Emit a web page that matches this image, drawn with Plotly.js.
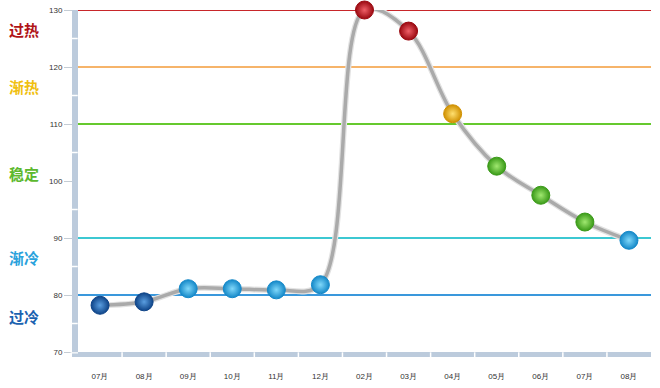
<!DOCTYPE html>
<html><head><meta charset="utf-8">
<script src="https://cdn.plot.ly/plotly-3.0.1.min.js"></script>
<style>html,body{margin:0;padding:0;background:#fff}#chart{width:660px;height:388px}</style>
</head><body><div id="chart"></div>
<script>
const months = ['07月','08月','09月','10月','11月','12月','02月','03月','04月','05月','06月','07月','08月'];
const values = [78.2, 78.8, 81.1, 81.1, 80.9, 81.8, 130, 126.3, 111.8, 102.6, 97.5, 92.8, 89.6];
const yTicks = [70, 80, 90, 100, 110, 120, 130];
const zoneLevels = [80, 90, 110, 120, 130];
const zoneLineColors = ['#3a98dc', '#3cc8d2', '#66c92e', '#f6b46a', '#c8262a'];
const zoneNames = ['过冷', '渐冷', '稳定', '渐热', '过热'];
const zoneLabelY = [76.3, 86.5, 101.4, 116.5, 126.5];
const zoneTextColors = ['#1a62b0', '#2aa2dc', '#5cb82e', '#f0c010', '#b01418'];

// marker colours per zone [light centre, dark edge]
function zoneColor(v) {
  if (v > 120) return ['#f06068', '#9a0810'];
  if (v > 110) return ['#ffe070', '#d09000'];
  if (v >= 90) return ['#a0e870', '#3a9a18'];
  if (v >= 80) return ['#80d8fa', '#1488c8'];
  return ['#5a9ee0', '#0e4488'];
}

const xIdx = months.map((_, i) => i);
const light = values.map(v => zoneColor(v)[0]);
const dark = values.map(v => zoneColor(v)[1]);

const traces = [
  { x: xIdx, y: values, type: 'scatter', mode: 'lines',
    line: { color: '#e2e2e2', width: 6, shape: 'spline', smoothing: 1 }, hoverinfo: 'skip', cliponaxis: false },
  { x: xIdx, y: values, type: 'scatter', mode: 'lines',
    line: { color: '#aaaaaa', width: 3.5, shape: 'spline', smoothing: 1 }, hoverinfo: 'skip', cliponaxis: false },
  { x: xIdx, y: values, type: 'scatter', mode: 'markers', cliponaxis: false,
    marker: { size: 18, color: dark, gradient: { type: 'radial', color: light },
      line: { color: dark, width: 1 } } }
];

const shapes = [];
zoneLevels.forEach((lv, i) => shapes.push({
  type: 'line', xref: 'paper', yref: 'y', x0: 0, x1: 1, y0: lv, y1: lv,
  line: { color: zoneLineColors[i], width: 2 }, layer: 'below'
}));
for (let k = 0; k < yTicks.length - 1; k++) {
  const mid = (yTicks[k] + yTicks[k + 1]) / 2;
  shapes.push({ type: 'line', xref: 'paper', yref: 'y', x0: -0.013, x1: -0.0005, y0: mid, y1: mid,
    line: { color: '#ffffff', width: 1.5 } });
}
for (let k = 0; k < months.length - 1; k++) {
  shapes.push({ type: 'line', xref: 'x', yref: 'paper', x0: k + 0.5, x1: k + 0.5, y0: -0.016, y1: -0.001,
    line: { color: '#ffffff', width: 1.5 } });
}
shapes.push({ type: 'line', xref: 'paper', yref: 'paper', x0: -0.013, x1: 0, y0: -0.0025, y1: -0.0025,
  line: { color: '#ffffff', width: 1.2 } });

const annotations = zoneNames.map((n, i) => ({
  xref: 'paper', yref: 'y', x: -0.124, y: zoneLabelY[i], xanchor: 'left', yanchor: 'middle',
  text: '<b>' + n + '</b>', showarrow: false,
  font: { family: 'Noto Sans CJK SC, sans-serif', size: 15, color: zoneTextColors[i] }
}));

const layout = {
  width: 660, height: 388,
  margin: { l: 78, r: 9, t: 10, b: 36 },
  paper_bgcolor: '#ffffff', plot_bgcolor: '#ffffff',
  showlegend: false,
  xaxis: {
    range: [-0.5, 12.5], tickvals: xIdx, ticktext: months, showgrid: false, zeroline: false,
    showline: true, linecolor: '#bccbdc', linewidth: 5, ticks: '', ticklabelstandoff: 12,
    tickfont: { family: 'Liberation Sans, Arial, sans-serif', size: 8, color: '#333' }, fixedrange: true
  },
  yaxis: {
    range: [70, 130], tickvals: yTicks, showgrid: false, zeroline: false,
    showline: true, linecolor: '#bccbdc', linewidth: 6, ticks: 'outside', ticklen: 8, tickcolor: '#c4ccd4',
    tickwidth: 1, tickfont: { family: 'Liberation Sans, Arial, sans-serif', size: 8, color: '#333' }, fixedrange: true
  },
  shapes: shapes,
  annotations: annotations
};

Plotly.newPlot('chart', traces, layout, { displayModeBar: false, staticPlot: true });
</script>
</body></html>
